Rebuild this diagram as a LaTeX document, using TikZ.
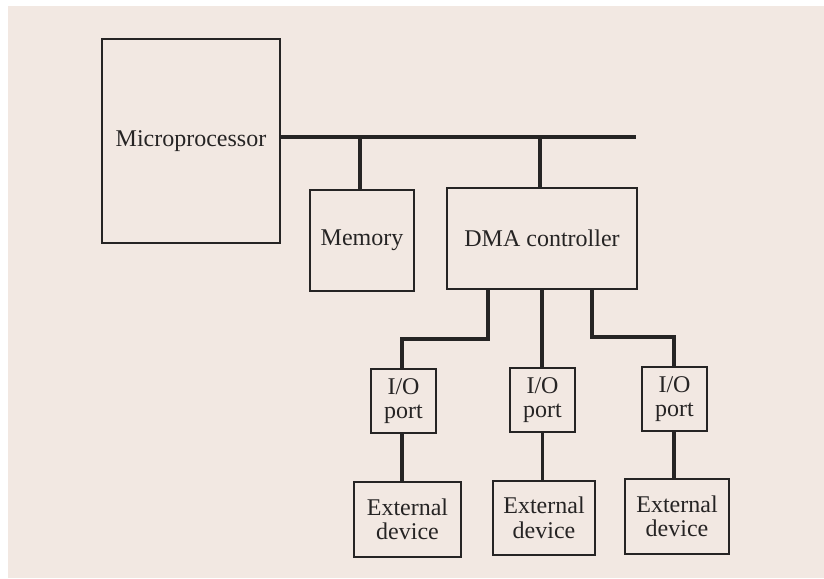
\documentclass[tikz,border=0pt]{standalone}
\usepackage{fontspec}
\setmainfont{Liberation Serif}
\definecolor{paper}{RGB}{242,232,226}
\definecolor{inkc}{RGB}{38,36,36}
\begin{document}
\begin{tikzpicture}[x=1pt,y=-1pt,
  box/.style={draw=inkc, line width=1.6pt, inner sep=0pt, align=center,
              text=inkc, font=\fontsize{24}{24.5}\selectfont},
  wire/.style={draw=inkc, line width=3.2pt}]
\fill[white] (0,0) rectangle (824,578);
\fill[paper] (8,6) rectangle (824,578);
\useasboundingbox (0,0) rectangle (824,578);

\node[box, minimum width=178pt, minimum height=204pt] (micro) at (191,141) {Microprocessor};
\node[box, minimum width=104pt, minimum height=101pt] (mem) at (362,240.5) {Memory};
\node[box, minimum width=190pt, minimum height=101pt] (dma) at (542,238.5) {DMA controller};
\node[box, minimum width=65pt, minimum height=64pt] (io1) at (403.5,401) {I/O\\port};
\node[box, minimum width=65pt, minimum height=64pt] (io2) at (542.5,400) {I/O\\port};
\node[box, minimum width=65pt, minimum height=64pt] (io3) at (674.5,399) {I/O\\port};
\node[box, minimum width=107pt, minimum height=75pt] (ext1) at (407.5,519.5) {External\\device};
\node[box, minimum width=102pt, minimum height=74pt] (ext2) at (544,518) {External\\device};
\node[box, minimum width=104pt, minimum height=75pt] (ext3) at (677,516.5) {External\\device};

\coordinate (busend) at (636,137);
\draw[wire] ([yshift=4pt]micro.east) -- (busend);
\draw[wire] (mem.north -| 360,0) -- (busend -| 360,0);
\draw[wire] (dma.north -| 540,0) -- (busend -| 540,0);

\draw[wire] (dma.south -| 488,0) |- (402,339) -- (io1.north -| 402,0);
\draw[wire] (dma.south) -- (dma.south |- io2.north);
\draw[wire] (dma.south -| 592,0) |- (674,337) -- (io3.north -| 674,0);

\draw[wire] (io1.south -| 402,0) -- (ext1.north -| 402,0);
\draw[wire] (io2.south) -- (io2.south |- ext2.north);
\draw[wire] (io3.south -| 674,0) -- (ext3.north -| 674,0);
\end{tikzpicture}
\end{document}
